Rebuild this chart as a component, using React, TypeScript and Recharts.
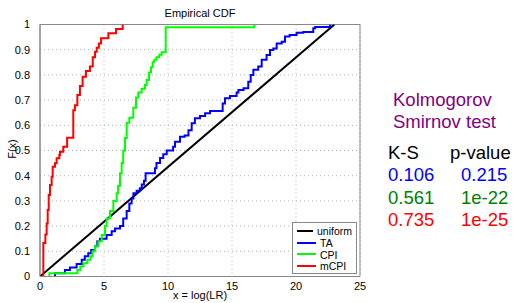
import React from "react";
import { LineChart, Line, XAxis, YAxis, CartesianGrid, ReferenceArea } from "recharts";

// empirical CDF step positions (x) and heights after each step (F)
const taX = [1.17, 1.95, 2.34, 2.86, 3.26, 3.5, 3.77, 4.0, 4.3, 4.48, 4.69, 5.2, 5.6, 5.86, 6.25, 6.5, 6.77, 6.98, 7.16, 7.3, 7.55, 7.8, 7.95, 8.12, 8.25, 8.98, 9.1, 9.38, 9.63, 9.9, 10.4, 10.55, 10.94, 11.3, 11.6, 11.85, 12.1, 12.5, 12.9, 13.28, 14.27, 14.45, 14.84, 15.36, 15.5, 15.9, 16.27, 16.46, 16.67, 17.05, 17.32, 17.7, 17.97, 18.23, 18.49, 18.88, 19.14, 19.5, 20.05, 20.57, 21.35, 21.5, 22.66];
const taF = [0.013, 0.026, 0.036, 0.05, 0.066, 0.08, 0.092, 0.105, 0.12, 0.14, 0.15, 0.165, 0.18, 0.19, 0.2, 0.23, 0.26, 0.29, 0.31, 0.33, 0.34, 0.35, 0.365, 0.38, 0.41, 0.43, 0.45, 0.47, 0.485, 0.5, 0.515, 0.535, 0.555, 0.56, 0.58, 0.608, 0.628, 0.637, 0.648, 0.657, 0.687, 0.707, 0.716, 0.73, 0.74, 0.747, 0.773, 0.8, 0.82, 0.833, 0.86, 0.879, 0.899, 0.905, 0.925, 0.932, 0.952, 0.958, 0.967, 0.97, 0.985, 0.99, 1.0];

const cpiX = [0.73, 2.92, 3.15, 3.4, 3.7, 3.95, 4.1, 4.3, 4.56, 4.82, 5.08, 5.2, 5.47, 5.73, 5.99, 6.1, 6.25, 6.38, 6.5, 6.64, 6.77, 6.98, 7.29, 7.5, 7.68, 7.94, 8.2, 8.33, 8.52, 8.67, 8.8, 8.93, 9.1, 9.32, 9.5, 9.82, 16.74];
const cpiF = [0.013, 0.026, 0.04, 0.053, 0.066, 0.08, 0.1, 0.12, 0.14, 0.165, 0.2, 0.23, 0.26, 0.3, 0.33, 0.36, 0.41, 0.45, 0.5, 0.55, 0.61, 0.63, 0.67, 0.71, 0.73, 0.745, 0.76, 0.78, 0.81, 0.83, 0.85, 0.86, 0.87, 0.88, 0.89, 0.989, 1.0];

const mcpiX = [0.26, 0.42, 0.52, 0.6, 0.68, 0.78, 0.91, 0.99, 1.17, 1.3, 1.51, 1.56, 1.82, 2.12, 2.6, 2.73, 2.92, 3.12, 3.33, 3.59, 3.9, 4.12, 4.3, 4.43, 4.6, 4.77, 5.34, 5.94, 6.46];
const mcpiF = [0.133, 0.167, 0.21, 0.264, 0.323, 0.363, 0.396, 0.436, 0.449, 0.469, 0.482, 0.495, 0.515, 0.551, 0.66, 0.68, 0.72, 0.756, 0.793, 0.815, 0.833, 0.87, 0.892, 0.908, 0.925, 0.945, 0.965, 0.982, 1.0];

const uniformX = [0, 23];
const uniformF = [0, 1];

const xTicks = [0, 5, 10, 15, 20, 25];
const yTicks = [0, 0.1, 0.2, 0.3, 0.4, 0.5, 0.6, 0.7, 0.8, 0.9, 1];

const ksRows = [
  { ks: "0.106", p: "0.215", color: "#0000ff" },
  { ks: "0.561", p: "1e-22", color: "#008000" },
  { ks: "0.735", p: "1e-25", color: "#ff0000" },
];

const legendItems = [
  { name: "uniform", color: "#000000" },
  { name: "TA", color: "#0000ff" },
  { name: "CPI", color: "#00ff00" },
  { name: "mCPI", color: "#ff0000" },
];

function ecdf(xs: number[], fs: number[]) {
  return [{ x: xs[0], y: 0 }, ...xs.map((x, i) => ({ x, y: fs[i] }))];
}

function line(xs: number[], fs: number[]) {
  return xs.map((x, i) => ({ x, y: fs[i] }));
}

const font = "'Liberation Sans', Arial, sans-serif";

function LegendBox() {
  return (
    <div style={{ position: "absolute", left: 292, top: 222, boxSizing: "border-box", width: 65, height: 52, background: "#fff", border: "1px solid #888", padding: "2px 4px", fontFamily: font, fontSize: 10.5 }}>
      {legendItems.map((d) => (
        <div key={d.name} style={{ display: "flex", alignItems: "center", height: 11.8 }}>
          <span style={{ display: "inline-block", width: 19, height: 2, background: d.color, marginRight: 4 }} />
          <span>{d.name}</span>
        </div>
      ))}
    </div>
  );
}

export default function App() {
  const big = { fontFamily: font, fontSize: 18.5, position: "absolute" as const, lineHeight: 1, whiteSpace: "nowrap" as const };
  return (
    <div style={{ position: "absolute", left: 0, top: 0, width: 515, height: 303, background: "#fff" }}>
      <LineChart width={515} height={303} margin={{ top: 24.5, right: 155, bottom: 0, left: 0 }}>
        <CartesianGrid stroke="#b0b0b0" strokeDasharray="1 3" />
        <XAxis
          type="number"
          dataKey="x"
          domain={[0, 25]}
          ticks={xTicks}
          allowDataOverflow
          height={26.5}
          stroke="#888"
          tickLine={false}
          tick={{ fill: "#000", fontSize: 11, fontFamily: font }}
          tickMargin={0}
        />
        <YAxis
          type="number"
          domain={[0, 1]}
          ticks={yTicks}
          allowDataOverflow
          width={40}
          stroke="#888"
          tickLine={false}
          tick={{ fill: "#000", fontSize: 11, fontFamily: font }}
          tickMargin={4}
          tickFormatter={(v: number) => String(v)}
        />
        <ReferenceArea x1={0} x2={25} y1={0} y2={1} fill="none" stroke="#888" strokeWidth={1} />
        <Line data={line(uniformX, uniformF)} dataKey="y" type="linear" stroke="#000" strokeWidth={2} dot={false} isAnimationActive={false} />
        <Line data={ecdf(taX, taF)} dataKey="y" type="stepAfter" stroke="#0000ff" strokeWidth={2} dot={false} isAnimationActive={false} />
        <Line data={ecdf(cpiX, cpiF)} dataKey="y" type="stepAfter" stroke="#00ff00" strokeWidth={2} dot={false} isAnimationActive={false} />
        <Line data={ecdf(mcpiX, mcpiF)} dataKey="y" type="stepAfter" stroke="#ff0000" strokeWidth={2} dot={false} isAnimationActive={false} />
      </LineChart>
      <LegendBox />
      <div style={{ position: "absolute", left: 0, width: 400, top: 7, textAlign: "center", fontFamily: font, fontSize: 11 }}>Empirical CDF</div>
      <div style={{ position: "absolute", left: 0, width: 400, top: 289, textAlign: "center", fontFamily: font, fontSize: 11 }}>x = log(LR)</div>
      <div style={{ position: "absolute", left: 12, top: 149, lineHeight: 1, transform: "translate(-50%,-50%) rotate(-90deg)", fontFamily: font, fontSize: 11 }}>F(x)</div>
      <div style={{ ...big, left: 393, top: 91, color: "#800080" }}>Kolmogorov</div>
      <div style={{ ...big, left: 393, top: 113, color: "#800080" }}>Smirnov test</div>
      <div style={{ ...big, left: 388, top: 144, color: "#000" }}>K-S</div>
      <div style={{ ...big, left: 450, top: 144, color: "#000" }}>p-value</div>
      {ksRows.map((r, i) => (
        <React.Fragment key={r.ks}>
          <div style={{ ...big, left: 388, top: 166 + i * 22.5, color: r.color }}>{r.ks}</div>
          <div style={{ ...big, left: 461, top: 166 + i * 22.5, color: r.color }}>{r.p}</div>
        </React.Fragment>
      ))}
    </div>
  );
}
